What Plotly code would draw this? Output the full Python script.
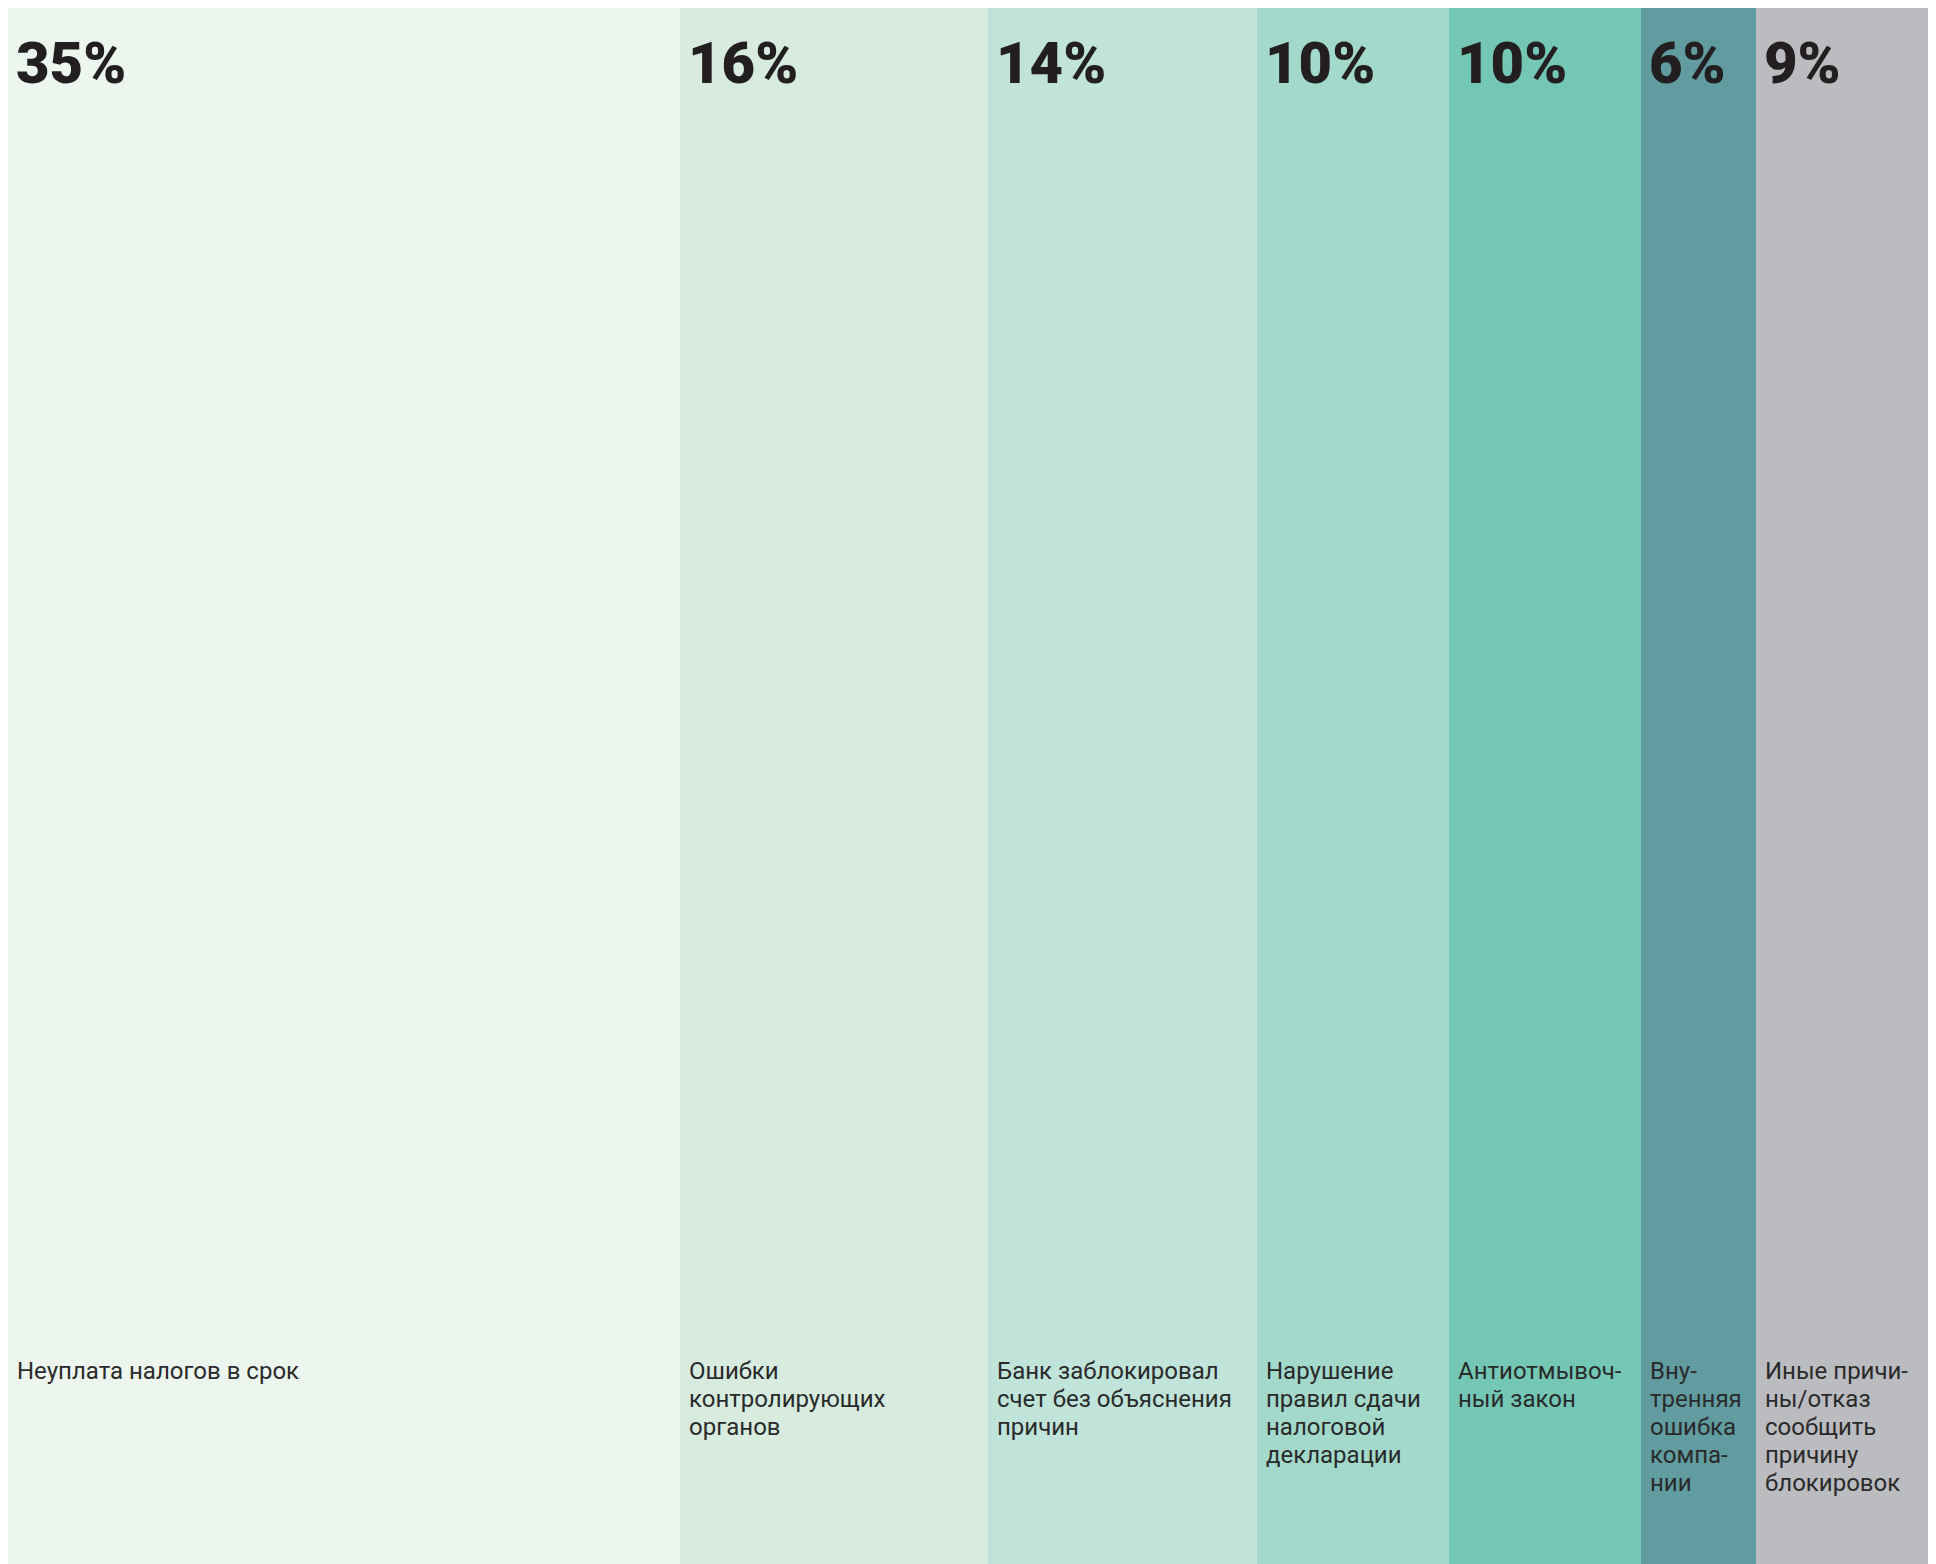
import plotly.graph_objects as go

categories = [
    "Неуплата налогов в срок",
    "Ошибки<br>контролирующих<br>органов",
    "Банк заблокировал<br>счет без объяснения<br>причин",
    "Нарушение<br>правил сдачи<br>налоговой<br>декларации",
    "Антиотмывоч-<br>ный закон",
    "Вну-<br>тренняя<br>ошибка<br>компа-<br>нии",
    "Иные причи-<br>ны/отказ<br>сообщить<br>причину<br>блокировок",
]
shares = [35, 16, 14, 10, 10, 6, 9]
colors = ["#ecf6ef", "#d7ecdf", "#c0e4da", "#a2d9cb", "#74c7b4", "#619ca0", "#bbbcc0"]

starts = []
acc = 0
for v in shares:
    starts.append(acc)
    acc += v
mids = [s + v / 2 for s, v in zip(starts, shares)]

fig = go.Figure()
fig.add_trace(go.Bar(
    x=mids, y=[1] * len(shares), width=shares,
    marker=dict(color=colors, line=dict(width=0)),
    hoverinfo="skip", showlegend=False,
))

text_color = "#231f20"
for s, v, c in zip(starts, shares, categories):
    fig.add_annotation(
        x=s, y=1, xref="x", yref="y", xanchor="left", yanchor="top",
        xshift=6, yshift=-19, text=f"{v}%", showarrow=False, align="left",
        font=dict(family="Roboto, Arial", size=58, color=text_color, weight=900),
    )
    for i, line in enumerate(c.split("<br>")):
        fig.add_annotation(
            x=s, y=0.1345, xref="x", yref="y", xanchor="left", yanchor="top",
            xshift=7, yshift=-28 * i, text=line, showarrow=False, align="left",
            font=dict(family="Roboto, Arial", size=24, color="#2a2a2a"),
        )

fig.update_layout(
    width=1928, height=1556,
    margin=dict(l=0, r=7, t=0, b=0),
    paper_bgcolor="white", plot_bgcolor="white",
    bargap=0,
    xaxis=dict(range=[0, 100], visible=False, fixedrange=True),
    yaxis=dict(range=[0, 1], visible=False, fixedrange=True),
)

fig.write_html("out.html")
